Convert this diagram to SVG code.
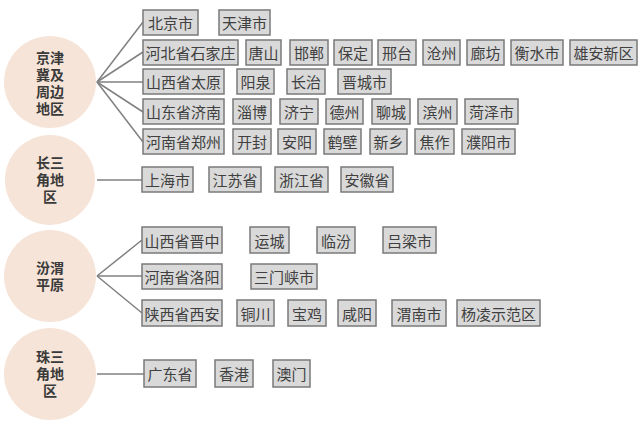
<svg xmlns="http://www.w3.org/2000/svg" width="644" height="423" viewBox="0 0 644 423">
<style>
.c{fill:#f6e4d8}
.ct{font-family:"Noto Sans CJK SC",sans-serif;font-size:14px;font-weight:bold;fill:#3a3a3a;text-anchor:middle}
.b rect{fill:#d9d9d9;stroke:#7a7a7a;stroke-width:1.5}
.b text{font-family:"Noto Sans CJK SC",sans-serif;font-size:15px;fill:#404040;text-anchor:middle;dominant-baseline:central}
#conn line{stroke:#808080;stroke-width:1.5}
</style>
<rect width="644" height="423" fill="#fff"/>
<g id="conn">
<line x1="97" y1="82" x2="143" y2="22"/><line x1="97" y1="82" x2="143" y2="52"/><line x1="97" y1="82" x2="143" y2="82"/><line x1="97" y1="82" x2="143" y2="112"/><line x1="97" y1="82" x2="143" y2="142"/>
<line x1="97" y1="180" x2="142" y2="180"/>
<line x1="97" y1="276" x2="142" y2="240"/><line x1="97" y1="276" x2="142" y2="276"/><line x1="97" y1="276" x2="142" y2="313"/>
<line x1="97" y1="374" x2="144" y2="374"/>
</g>
<g id="n1"><circle class="c" cx="50" cy="82" r="46"/><text class="ct" x="50" y="63">京津</text><text class="ct" x="50" y="80">冀及</text><text class="ct" x="50" y="97">周边</text><text class="ct" x="50" y="114">地区</text></g>
<g id="n2"><circle class="c" cx="50" cy="180" r="45"/><text class="ct" x="50" y="168">长三</text><text class="ct" x="50" y="185">角地</text><text class="ct" x="50" y="202">区</text></g>
<g id="n3"><circle class="c" cx="50" cy="276" r="46"/><text class="ct" x="50" y="273">汾渭</text><text class="ct" x="50" y="290">平原</text></g>
<g id="n4"><circle class="c" cx="50" cy="374" r="46"/><text class="ct" x="50" y="362">珠三</text><text class="ct" x="50" y="379">角地</text><text class="ct" x="50" y="396">区</text></g>
<g class="b" id="r1">
<rect x="143" y="10" width="55" height="25"/><text x="170.5" y="22.5">北京市</text>
<rect x="219" y="10" width="51" height="25"/><text x="244.5" y="22.5">天津市</text>
</g>
<g class="b" id="r2">
<rect x="143" y="40" width="95" height="25"/><text x="190.5" y="52.5">河北省石家庄</text>
<rect x="246" y="40" width="35" height="25"/><text x="263.5" y="52.5">唐山</text>
<rect x="290" y="40" width="38" height="25"/><text x="309" y="52.5">邯郸</text>
<rect x="334" y="40" width="38" height="25"/><text x="353" y="52.5">保定</text>
<rect x="378" y="40" width="38" height="25"/><text x="397" y="52.5">邢台</text>
<rect x="423" y="40" width="37" height="25"/><text x="441.5" y="52.5">沧州</text>
<rect x="467" y="40" width="37" height="25"/><text x="485.5" y="52.5">廊坊</text>
<rect x="511" y="40" width="52" height="25"/><text x="537" y="52.5">衡水市</text>
<rect x="570" y="40" width="67" height="25"/><text x="603.5" y="52.5">雄安新区</text>
</g>
<g class="b" id="r3">
<rect x="143" y="69" width="81" height="25"/><text x="183.5" y="81.5">山西省太原</text>
<rect x="237" y="69" width="37" height="25"/><text x="255.5" y="81.5">阳泉</text>
<rect x="287" y="69" width="38" height="25"/><text x="306" y="81.5">长治</text>
<rect x="338" y="69" width="53" height="25"/><text x="364.5" y="81.5">晋城市</text>
</g>
<g class="b" id="r4">
<rect x="143" y="99" width="81" height="25"/><text x="183.5" y="111.5">山东省济南</text>
<rect x="233" y="99" width="38" height="25"/><text x="252" y="111.5">淄博</text>
<rect x="280" y="99" width="38" height="25"/><text x="299" y="111.5">济宁</text>
<rect x="326" y="99" width="37" height="25"/><text x="344.5" y="111.5">德州</text>
<rect x="372" y="99" width="38" height="25"/><text x="391" y="111.5">聊城</text>
<rect x="418" y="99" width="39" height="25"/><text x="437.5" y="111.5">滨州</text>
<rect x="465" y="99" width="53" height="25"/><text x="491.5" y="111.5">菏泽市</text>
</g>
<g class="b" id="r5">
<rect x="143" y="129" width="81" height="25"/><text x="183.5" y="141.5">河南省郑州</text>
<rect x="233" y="129" width="38" height="25"/><text x="252" y="141.5">开封</text>
<rect x="278" y="129" width="38" height="25"/><text x="297" y="141.5">安阳</text>
<rect x="324" y="129" width="37" height="25"/><text x="342.5" y="141.5">鹤壁</text>
<rect x="370" y="129" width="37" height="25"/><text x="388.5" y="141.5">新乡</text>
<rect x="415" y="129" width="39" height="25"/><text x="434.5" y="141.5">焦作</text>
<rect x="462" y="129" width="53" height="25"/><text x="488.5" y="141.5">濮阳市</text>
</g>
<g class="b" id="r6">
<rect x="142" y="167" width="51" height="25"/><text x="167.5" y="179.5">上海市</text>
<rect x="209" y="167" width="52" height="25"/><text x="235" y="179.5">江苏省</text>
<rect x="275" y="167" width="53" height="25"/><text x="301.5" y="179.5">浙江省</text>
<rect x="341" y="167" width="52" height="25"/><text x="367" y="179.5">安徽省</text>
</g>
<g class="b" id="r7">
<rect x="142" y="227" width="80" height="26"/><text x="182" y="240">山西省晋中</text>
<rect x="250" y="227" width="39" height="26"/><text x="269.5" y="240">运城</text>
<rect x="317" y="227" width="38" height="26"/><text x="336" y="240">临汾</text>
<rect x="383" y="227" width="53" height="26"/><text x="409.5" y="240">吕梁市</text>
</g>
<g class="b" id="r8">
<rect x="142" y="264" width="80" height="25"/><text x="182" y="276.5">河南省洛阳</text>
<rect x="251" y="264" width="66" height="25"/><text x="284" y="276.5">三门峡市</text>
</g>
<g class="b" id="r9">
<rect x="142" y="300" width="80" height="26"/><text x="182" y="313">陕西省西安</text>
<rect x="237" y="300" width="37" height="26"/><text x="255.5" y="313">铜川</text>
<rect x="288" y="300" width="38" height="26"/><text x="307" y="313">宝鸡</text>
<rect x="338" y="300" width="38" height="26"/><text x="357" y="313">咸阳</text>
<rect x="392" y="300" width="54" height="26"/><text x="419" y="313">渭南市</text>
<rect x="457" y="300" width="83" height="26"/><text x="498.5" y="313">杨凌示范区</text>
</g>
<g class="b" id="r10">
<rect x="144" y="360" width="52" height="27"/><text x="170" y="373.5">广东省</text>
<rect x="215" y="360" width="38" height="27"/><text x="234" y="373.5">香港</text>
<rect x="273" y="360" width="37" height="27"/><text x="291.5" y="373.5">澳门</text>
</g>
</svg>
